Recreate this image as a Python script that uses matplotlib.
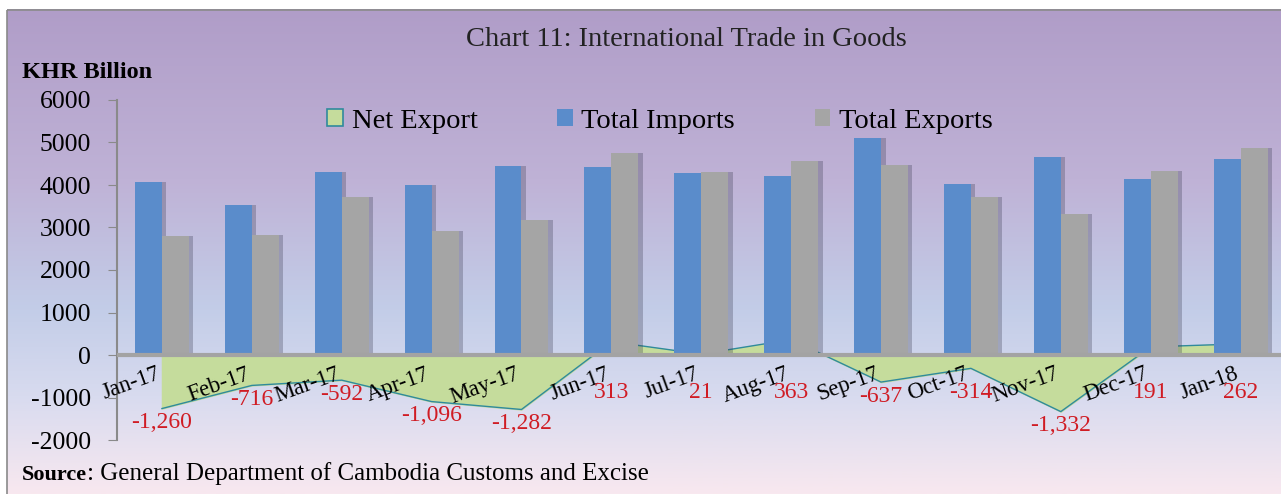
import numpy as np
import matplotlib.pyplot as plt
from matplotlib.colors import LinearSegmentedColormap
from matplotlib.patches import Patch, Rectangle

plt.rcParams['font.family'] = ['Liberation Serif', 'DejaVu Serif']

# data (KHR billion)
months = ['Jan-17', 'Feb-17', 'Mar-17', 'Apr-17', 'May-17', 'Jun-17', 'Jul-17',
          'Aug-17', 'Sep-17', 'Oct-17', 'Nov-17', 'Dec-17', 'Jan-18']
total_imports = [4060, 3536, 4312, 4007, 4453, 4430, 4289, 4210, 5110, 4030, 4660, 4150, 4610]
total_exports = [2800, 2820, 3720, 2911, 3171, 4743, 4310, 4573, 4473, 3716, 3328, 4341, 4872]
net_export = [-1260, -716, -592, -1096, -1282, 313, 21, 363, -637, -314, -1332, 191, 262]
y_ticks = [-2000, -1000, 0, 1000, 2000, 3000, 4000, 5000, 6000]

W, H = 1281, 494
fig = plt.figure(figsize=(W / 100, H / 100), dpi=100)

# background gradient (purple top -> light blue -> pink bottom)
bg = fig.add_axes([0, 0, 1, 1])
bg.set_xlim(0, W)
bg.set_ylim(H, 0)
bg.axis('off')
cmap = LinearSegmentedColormap.from_list('bg', [
    (0.0, '#b09dc8'), (0.35, '#bfb2d6'), (0.62, '#c3cde8'),
    (0.8, '#d8dbef'), (1.0, '#f8e8ef')])
grad = np.linspace(0, 1, 256).reshape(-1, 1)
bg.imshow(grad, cmap=cmap, aspect='auto', extent=[7, W, H, 10])
bg.add_patch(Rectangle((7, 10), W, H, fill=False, ec='#8a8a8a', lw=1.2))

ax = fig.add_axes([117 / W, 1 - 440 / H, 1 - 117 / W, 340 / H])
ax.patch.set_alpha(0)
x = np.arange(len(months))
w = 0.3

# net export area behind the bars
ax.fill_between(x, 0, net_export, color='#c5dc9c', zorder=1)
ax.plot(x, net_export, color='#2f8a9c', lw=1.0, zorder=1.5)

# bar shadows
ax.bar(x - w / 2 + 0.05, total_imports, w, color='#3a3a50', alpha=0.3, zorder=2, lw=0)
ax.bar(x + w / 2 + 0.05, total_exports, w, color='#3a3a50', alpha=0.3, zorder=2, lw=0)
ax.bar(x - w / 2, total_imports, w, color='#5a8ccb', zorder=3, lw=0)
ax.bar(x + w / 2, total_exports, w, color='#a5a5a5', zorder=3, lw=0)

ax.axhline(0, color='#a3a3a3', lw=3, zorder=4)

ax.set_xlim(-0.5, 12.45)
ax.set_ylim(-2000, 6000)
ax.set_yticks(y_ticks)
ax.set_yticklabels([str(v) for v in y_ticks], fontsize=18.5)
ax.tick_params(axis='y', length=6.5, color='#8a8a8a', pad=12)
ax.set_xticks([])
for s in ['top', 'right', 'bottom']:
    ax.spines[s].set_visible(False)
ax.spines['left'].set_color('#8a8a8a')
ax.spines['left'].set_linewidth(1.5)

# month labels and values
for i, m in enumerate(months):
    ax.text(i - 0.03, -430, m, rotation=20, rotation_mode='anchor',
            ha='right', va='center', fontsize=16.5, zorder=5)
    v = net_export[i]
    ax.text(i, min(v, -550) - 330, f'{v:,}', color='#d01c24',
            ha='center', va='center', fontsize=17, zorder=5)

fig.text(686 / W, 1 - 40 / H, 'Chart 11: International Trade in Goods',
         ha='center', va='center', fontsize=20.5, color='#222222')
fig.text(22 / W, 1 - 73 / H, 'KHR Billion', weight='bold', fontsize=17.5,
         ha='left', va='center')

handles = [Patch(fc='#c5dc9c', ec='#2f8a9c', lw=1.2),
           Patch(fc='#5a8ccb', ec='none'),
           Patch(fc='#a5a5a5', ec='none')]
fig.legend(handles, ['Net Export', 'Total Imports', 'Total Exports'],
           loc='center', bbox_to_anchor=(660 / W, 1 - 121 / H), ncol=3,
           frameon=False, fontsize=20.5, handlelength=0.55, handleheight=0.55,
           handletextpad=0.3, columnspacing=2.8)

src = fig.text(22 / W, 1 - 475 / H, 'Source', weight='bold', fontsize=16,
               ha='left', va='center')
ax.annotate(': General Department of Cambodia Customs and Excise',
            xy=(1, 0), xycoords=src, va='bottom', ha='left', fontsize=18)

fig.savefig('out.png', dpi=100)
